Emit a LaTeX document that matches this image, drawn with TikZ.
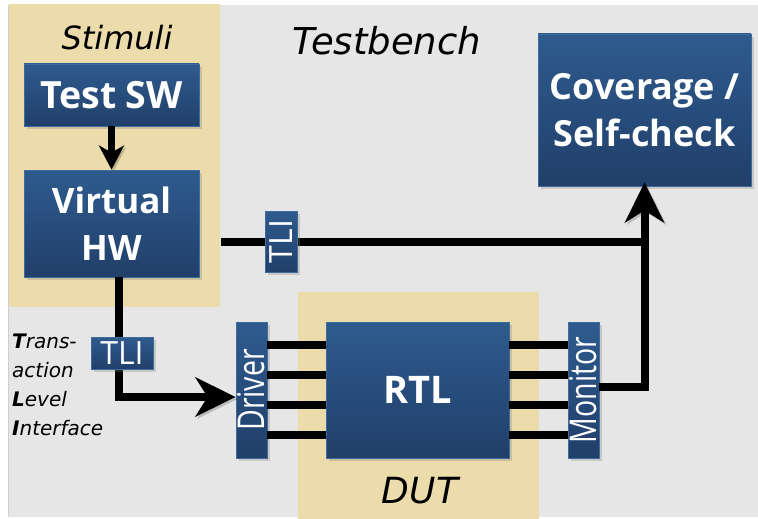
\documentclass[tikz,border=0pt]{standalone}
\usepackage{fontspec}
\usepackage{graphicx}
\setmainfont{DejaVu Sans}
\newfontfamily\boxfont{Open Sans}
\usetikzlibrary{arrows.meta,shadows}

\definecolor{bggray}{HTML}{E6E6E6}
\definecolor{edgegray}{HTML}{CFCFCF}
\definecolor{tan}{HTML}{ECDCAB}
\definecolor{boxtop}{HTML}{2E5B8E}
\definecolor{boxbot}{HTML}{213F6A}
\definecolor{boxedge}{HTML}{3E6B9C}

\tikzset{
  bluebox/.style={rectangle, inner sep=0pt, draw=boxedge, line width=0.8pt,
    top color=boxtop, bottom color=boxbot, text=white,
    drop shadow={shadow xshift=3pt, shadow yshift=-3pt, opacity=0.3}},
  titlebox/.style={bluebox, align=center,
    font=\boxfont\bfseries\fontsize{35}{47}\selectfont},
  portbox/.style={bluebox, font=\boxfont\fontsize{37}{40}\selectfont},
  tlibox/.style={bluebox, font=\boxfont\fontsize{32}{34}\selectfont},
  regionlabel/.style={anchor=base, inner sep=0pt, font=\itshape},
  conn/.style={line width=8pt, draw=black,
    preaction={draw=black, opacity=0.18, transform canvas={shift={(2pt,-2pt)}}}},
  wire/.style={line width=7.5pt, draw=black,
    preaction={draw=black, opacity=0.18, transform canvas={shift={(2pt,-2pt)}}}},
  bigtip/.style={-{Stealth[length=40pt, width=39pt, inset=12pt]}},
  smalltip/.style={-{Stealth[length=24pt, width=25pt, inset=7pt]}},
}

\begin{document}
\begin{tikzpicture}[x=1pt, y=-1pt]
  \useasboundingbox (0,0) rectangle (758,519);

  % testbench background and the two shaded regions
  \fill[bggray] (9,5) rectangle (758,517);
  \draw[edgegray, line width=1pt] (8.5,5) -- (8.5,517);
  \fill[tan] (9,4) rectangle (220,307);
  \fill[tan] (298,292) rectangle (539,519);

  % region labels
  \node[regionlabel, font=\itshape\fontsize{32}{34}\selectfont] (stimlbl) at (117,50) {Stimuli};
  \node[regionlabel, font=\itshape\fontsize{37}{40}\selectfont] (tblbl) at (387,55) {Testbench};
  \node[regionlabel, font=\itshape\fontsize{36}{40}\selectfont] (dutlbl) at (420,503) {DUT};

  % acronym legend
  \node[anchor=north west, inner sep=0pt, align=left,
        font=\itshape\fontsize{20}{29}\selectfont] (tlilegend) at (12,333.4)
    {{\bfseries T}rans-\\action\\{\bfseries L}evel\\{\bfseries I}nterface};

  % main blocks
  \node[titlebox, font=\boxfont\bfseries\fontsize{37.5}{40}\selectfont,
        minimum width=175pt, minimum height=62pt] (testsw) at (111.5,95) {Test SW};
  \node[titlebox, minimum width=175pt, minimum height=107pt] (vhw) at (111.5,223.5) {Virtual\\HW};
  \node[titlebox, font=\boxfont\bfseries\fontsize{36}{47}\selectfont,
        minimum width=213pt, minimum height=152pt] (cov) at (644.5,110) {Coverage /\\Self-check};
  \node[titlebox, font=\boxfont\bfseries\fontsize{38}{40}\selectfont,
        minimum width=183pt, minimum height=136pt] (rtl) at (417.5,390) {RTL};
  \node[portbox, minimum width=31pt, minimum height=136pt] (driver) at (251.5,390)
    {\rotatebox{90}{\scalebox{0.77}[1]{Driver}}};
  \node[portbox, minimum width=31pt, minimum height=136pt] (monitor) at (583.5,390)
    {\rotatebox{90}{\scalebox{0.77}[1]{Monitor}}};

  % connections
  \coordinate (hwtap) at (221,242);
  \draw[conn, line width=7pt, smalltip] (testsw) -- (vhw);
  \draw[conn] (hwtap) -- (hwtap -| cov.south);
  \draw[conn, bigtip] ([yshift=3pt]monitor.east) -| ([yshift=4pt]cov.south);
  \draw[conn, bigtip] ([xshift=7.5pt]vhw.south) |- ([yshift=-7pt]driver.west);

  % pin wires between driver, RTL and monitor
  \foreach \yy [count=\i] in {345,375,405,435} {
    \coordinate (pin\i) at (0,\yy);
    \draw[wire] (driver.east |- pin\i) -- (rtl.west |- pin\i);
    \draw[wire] (rtl.east |- pin\i) -- (monitor.west |- pin\i);
  }

  % transaction level interface markers
  \node[tlibox, minimum width=32pt, minimum height=61pt] (tliup) at (281,241.5)
    {\rotatebox{90}{TLI}};
  \node[tlibox, minimum width=62pt, minimum height=32pt] (tlilow) at (122,353) {TLI};
\end{tikzpicture}
\end{document}
